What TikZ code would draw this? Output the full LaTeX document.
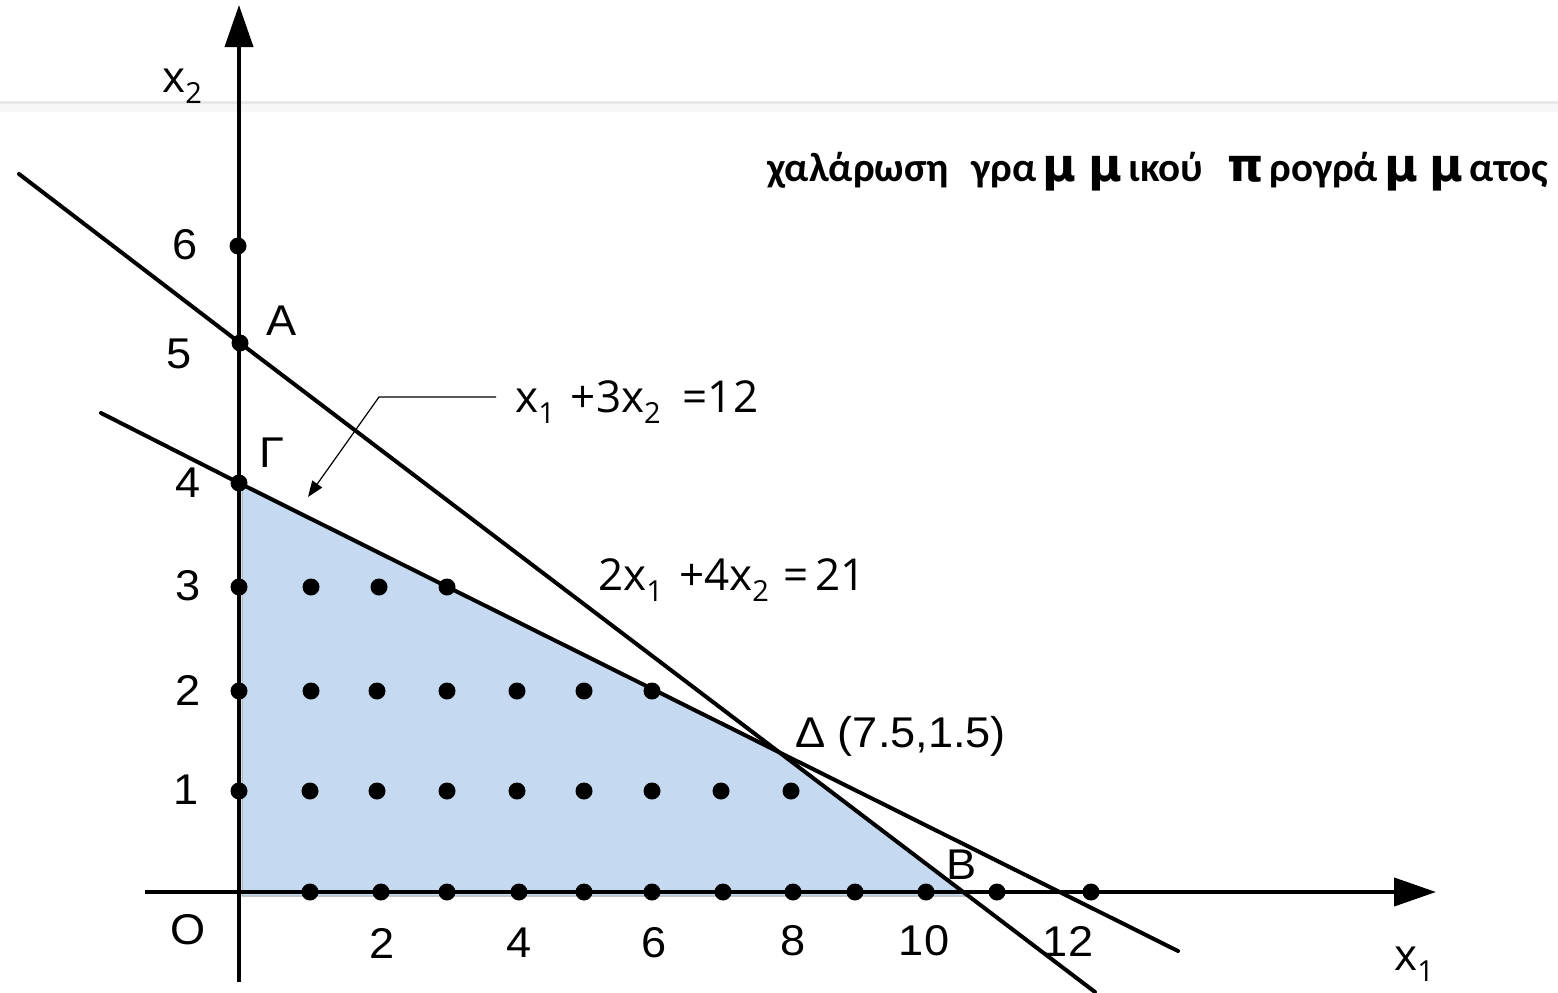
\documentclass[tikz,border=0pt]{standalone}
\usepackage{fontspec}
\setmainfont{Liberation Sans}[FakeStretch=1.05]
\newfontfamily\eqfont{Open Sans}
\newfontfamily\titlefont{Carlito}
\newfontfamily\greekwide{DejaVu Sans}
\usetikzlibrary{arrows.meta}
\definecolor{regionblue}{RGB}{197,217,240}
\newcommand\lblbig{\fontsize{43}{48}\selectfont}
\newcommand\eqf{\eqfont\fontsize{44}{50}\selectfont}
\newcommand\eqsub[1]{\raisebox{-11pt}{\fontsize{29}{33}\selectfont #1}}
\newcommand\wideglyph[1]{\hspace{6pt}{\greekwide\bfseries\fontsize{46}{50}\selectfont #1}\hspace{6pt}}
\tikzset{
  axisline/.style={line width=4pt, -{Triangle[length=42pt,width=28pt]}},
  cline/.style={line width=4pt, line cap=round},
  dot/.style={circle, fill=black, inner sep=0pt, minimum size=17pt},
  num/.style={font=\lblbig, inner sep=0pt},
  ptlbl/.style={font=\lblbig, inner sep=0pt},
  eqlbl/.style={font=\eqf, inner sep=0pt, anchor=base west},
  pointer/.style={line width=1.2pt, -{Triangle[length=16pt,width=12pt]}}
}
\begin{document}
\begin{tikzpicture}[x=1pt,y=-1pt]
\useasboundingbox (0,0) rectangle (1558,993);
% faint page edge
\fill[black!3] (0,102) rectangle (1558,112);
\draw[line width=3pt, black!9] (0,102) -- (1558,102);
% key points
\coordinate (A) at (240,343);
\coordinate (G) at (239,483);
\coordinate (D) at (775,749);
\coordinate (B) at (962,892);
\coordinate (O) at (239,892);
% feasible region
\filldraw[fill=regionblue, draw=gray!70, line width=1pt]
  (242,483) -- (D) -- (B) -- (965,896) -- (242,896) -- cycle;
% constraint lines
\coordinate (u1) at (19,174);
\coordinate (u2) at (1095,992);
\coordinate (l1) at (101,413);
\coordinate (l2) at (1178,951);
\draw[cline] (u1) -- (A) -- (u2);
\draw[cline] (l1) -- (G) -- (l2);
% axes
\coordinate (xs) at (145,892);
\coordinate (xe) at (1436,892);
\coordinate (ys) at (239,982);
\coordinate (ye) at (239,5);
\draw[axisline] (xs) -- (xe);
\draw[axisline] (ys) -- (ye);
% dots
\node[dot] (d6) at (238,246) {};
\node[dot] (dA) at (A) {};
\node[dot] (dG) at (G) {};
\foreach \x [count=\i] in {310,381,447,519,584,652,723,793,855,926,997,1091}
  \node[dot] (r0-\i) at (\x,892) {};
\foreach \x [count=\i] in {239,310,377,447,517,584,652,721,791}
  \node[dot] (r1-\i) at (\x,791) {};
\foreach \x [count=\i] in {239,311,377,447,517,584,652}
  \node[dot] (r2-\i) at (\x,691) {};
\foreach \x [count=\i] in {239,311,379,447}
  \node[dot] (r3-\i) at (\x,587) {};
% axis numbers
\node[num] (n6) at (185,245) {6};
\node[num] (n5) at (179,354) {5};
\node[num] (n4) at (188,483) {4};
\node[num] (n3) at (188,586) {3};
\node[num] (n2) at (188,690) {2};
\node[num] (n1) at (186,790) {1};
\node[num] (nO) at (188,930) {O};
\node[num] (m2) at (382,943) {2};
\node[num] (m4) at (519,943) {4};
\node[num] (m6) at (654,943) {6};
\node[num] (m8) at (793,941) {8};
\node[num] (m10) at (924,941) {10};
\node[num] (m12) at (1068,941) {12};
% point labels
\node[ptlbl] (lA) at (282,321) {A};
\node[ptlbl] (lG) at (272,453) {Γ};
\node[font=\lblbig, inner sep=0pt, anchor=base west] (lD) at (795,747) {Δ (7.5,1.5)};
\node[ptlbl] (lB) at (962,865) {B};
% axis names
\node[eqlbl] (x1) at (1394,970) {x\eqsub{1}};
\node[eqlbl] (x2) at (162,92) {x\eqsub{2}};
% equations
\node[eqlbl] (eq1) at (515,412) {x\eqsub{1}\hspace{16pt}+3x\eqsub{2}\hspace{22pt}=12};
\node[eqlbl] (eq2) at (598,590) {2x\eqsub{1}\hspace{16pt}+4x\eqsub{2}\hspace{15pt}=\hspace{6pt}21};
% pointer
\coordinate (pstart) at (496,397);
\coordinate (pkink) at (379,397);
\coordinate (ptip) at (308,497);
\draw[pointer] (pstart) -- (pkink) -- (ptip);
% title
\node[font=\titlefont\bfseries\fontsize{41}{46}\selectfont, inner sep=0pt, anchor=base west] (title) at (767,181)
  {χαλάρωση\hspace{23pt}γρα\wideglyph{μ}\wideglyph{μ}ικού\hspace{18pt}\wideglyph{π}ρογρά\wideglyph{μ}\wideglyph{μ}ατος};
\end{tikzpicture}
\end{document}
